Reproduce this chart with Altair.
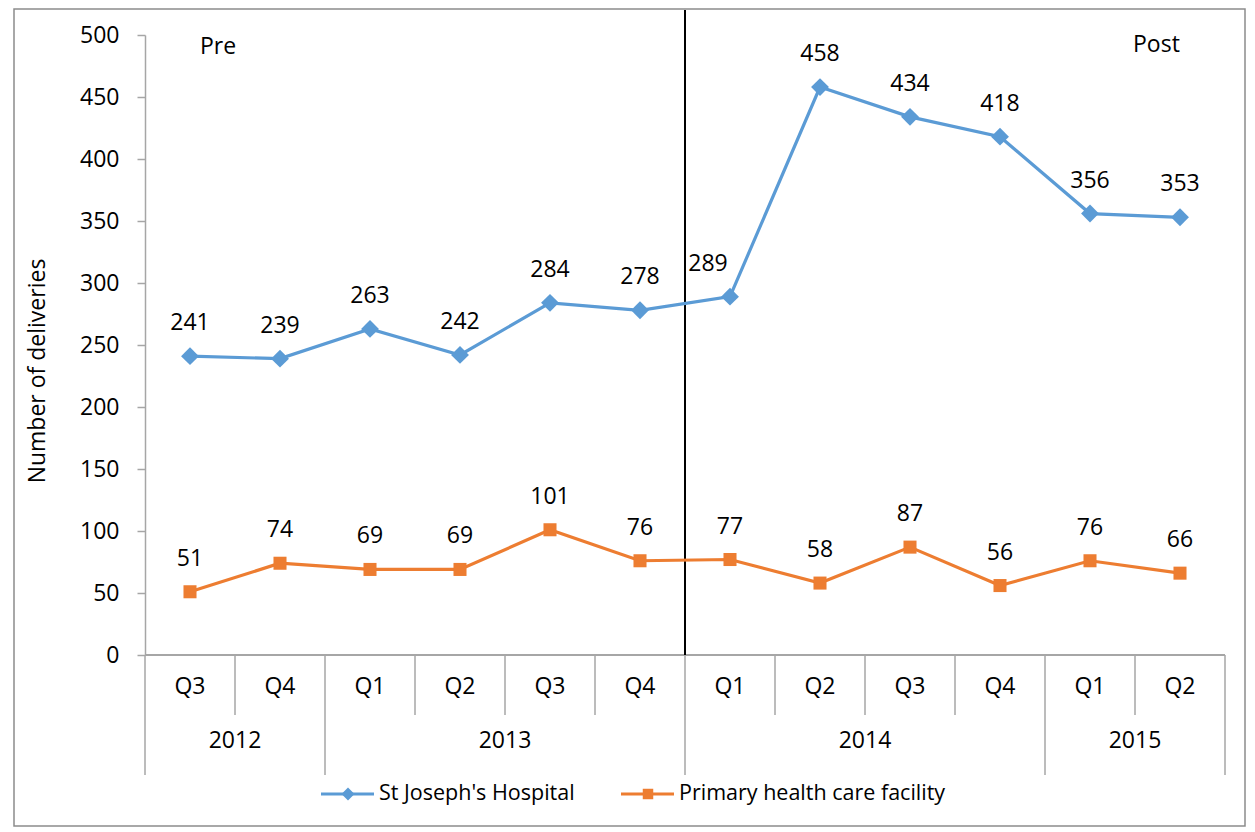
import altair as alt
import pandas as pd

# ---- data ----
quarters = ["Q3", "Q4", "Q1", "Q2", "Q3", "Q4", "Q1", "Q2", "Q3", "Q4", "Q1", "Q2"]
years = ["2012", "2013", "2014", "2015"]
year_counts = [2, 4, 4, 2]
hospital = [241, 239, 263, 242, 284, 278, 289, 458, 434, 418, 356, 353]
phc = [51, 74, 69, 69, 101, 76, 77, 58, 87, 56, 76, 66]
series_names = ["St Joseph's Hospital", "Primary health care facility"]
series_colors = ["#5B9BD5", "#ED7D31"]
series_shapes = ["diamond", "square"]
y_ticks = list(range(0, 501, 50))
intervention_after = "2013"  # line drawn between 2013 Q4 and 2014 Q1

FONT = "Open Sans"
FS = 23
GREY = "#A6A6A6"

rows = []
for i in range(len(quarters)):
    rows.append(dict(pos=i + 0.5, series=series_names[0], value=hospital[i], idx=i))
    rows.append(dict(pos=i + 0.5, series=series_names[1], value=phc[i], idx=i))
df = pd.DataFrame(rows)

# year boundaries
bounds = [0]
for c in year_counts:
    bounds.append(bounds[-1] + c)
year_df = pd.DataFrame({
    "year": years,
    "center": [(bounds[k] + bounds[k + 1]) / 2 for k in range(len(years))],
})
year_sep_df = pd.DataFrame({"pos": bounds})
q_sep_df = pd.DataFrame({"pos": [p for p in range(1, len(quarters)) if p not in bounds]})
q_df = pd.DataFrame({"q": quarters, "pos": [i + 0.5 for i in range(len(quarters))]})
cut = bounds[years.index(intervention_after) + 1]
cut_df = pd.DataFrame({"pos": [cut]})

W, H = 1080, 620
xscale = alt.Scale(domain=[0, len(quarters)], nice=False, zero=False)
yscale = alt.Scale(domain=[0, 500], nice=False)
yaxis = alt.Axis(values=y_ticks, grid=False, domainColor=GREY, tickColor=GREY,
                 tickSize=8, labelPadding=18, labelFont=FONT, labelFontSize=FS,
                 labelColor="#000000", title=None, domainWidth=1.5, tickWidth=1.5)

def X(field="pos"):
    return alt.X(f"{field}:Q", scale=xscale, axis=None)

def Y(field="value"):
    return alt.Y(f"{field}:Q", scale=yscale, axis=yaxis)

color = alt.Color("series:N", scale=alt.Scale(domain=series_names, range=series_colors), legend=None)

lines = alt.Chart(df).mark_line(strokeWidth=3.2).encode(x=X(), y=Y(), color=color, detail="series:N")
pts_h = alt.Chart(df).transform_filter(alt.datum.series == series_names[0]).mark_point(
    filled=True, size=320, opacity=1, shape=series_shapes[0], color=series_colors[0]).encode(x=X(), y=Y())
pts_p = alt.Chart(df).transform_filter(alt.datum.series == series_names[1]).mark_point(
    filled=True, size=170, opacity=1, shape=series_shapes[1], color=series_colors[1]).encode(x=X(), y=Y())

labels_main = alt.Chart(df).transform_filter(
    ~((alt.datum.series == series_names[0]) & (alt.datum.idx == 6))
).mark_text(font=FONT, fontSize=FS, dy=-33, baseline="middle", color="#000000").encode(
    x=X(), y=Y(), text="value:Q")
labels_shift = alt.Chart(df).transform_filter(
    (alt.datum.series == series_names[0]) & (alt.datum.idx == 6)
).mark_text(font=FONT, fontSize=FS, dy=-33, dx=-22, baseline="middle", color="#000000").encode(
    x=X(), y=Y(), text="value:Q")

# x axis construction
x_domain = alt.Chart(year_sep_df).mark_rule(color=GREY, strokeWidth=1.5).encode(
    x=alt.value(0), x2=alt.value(W), y=alt.value(H))
q_seps = alt.Chart(q_sep_df).mark_rule(color=GREY, strokeWidth=1.5).encode(
    x=X(), y=alt.value(H), y2=alt.value(H + 60))
y_seps = alt.Chart(year_sep_df).mark_rule(color=GREY, strokeWidth=1.5).encode(
    x=X(), y=alt.value(H), y2=alt.value(H + 120))
q_labels = alt.Chart(q_df).mark_text(font=FONT, fontSize=FS, baseline="middle", color="#000000").encode(
    x=X(), y=alt.value(H + 32), text="q:N")
year_labels = alt.Chart(year_df).mark_text(font=FONT, fontSize=FS, baseline="middle", color="#000000").encode(
    x=X("center"), y=alt.value(H + 86), text="year:N")

cut_line = alt.Chart(cut_df).mark_rule(color="#000000", strokeWidth=2).encode(
    x=X(), y=alt.value(-25), y2=alt.value(H))

pre = alt.Chart(cut_df).mark_text(text="Pre", font=FONT, fontSize=FS, align="left",
                                  baseline="middle", color="#000000").encode(
    x=alt.value(55), y=alt.value(12))
post = alt.Chart(cut_df).mark_text(text="Post", font=FONT, fontSize=FS, align="left",
                                   baseline="middle", color="#000000").encode(
    x=alt.value(988), y=alt.value(10))

ytitle = alt.Chart(cut_df).mark_text(text="Number of deliveries", font=FONT, fontSize=FS, angle=270,
                                     baseline="middle", align="center", color="#000000").encode(
    x=alt.value(-107), y=alt.value(336))

# legend
legend_layers = []
leg_x = [176, 476]
leg_sizes = [170, 110]
for k, name in enumerate(series_names):
    x0 = leg_x[k]
    legend_layers.append(alt.Chart(cut_df).mark_rule(color=series_colors[k], strokeWidth=3).encode(
        x=alt.value(x0), x2=alt.value(x0 + 53), y=alt.value(759)))
    legend_layers.append(alt.Chart(cut_df).mark_point(shape=series_shapes[k], filled=True, opacity=1,
                                                      size=leg_sizes[k], color=series_colors[k]).encode(
        x=alt.value(x0 + 27), y=alt.value(759)))
    legend_layers.append(alt.Chart(cut_df).mark_text(text=name, font=FONT, fontSize=21.5, align="left",
                                                     baseline="middle", color="#000000").encode(
        x=alt.value(x0 + 58), y=alt.value(759)))

border = alt.Chart(cut_df).mark_rect(fill=None, stroke="#8C8C8C", strokeWidth=1.5).encode(
    x=alt.value(-131), x2=alt.value(1100), y=alt.value(-26), y2=alt.value(791))

chart = alt.layer(
    border, x_domain, q_seps, y_seps, q_labels, year_labels, cut_line,
    lines, pts_h, pts_p, labels_main, labels_shift, pre, post, ytitle, *legend_layers
).properties(
    width=W, height=H,
    autosize=alt.AutoSizeParams(type="none"),
    padding={"left": 137, "top": 27, "right": 22, "bottom": 173},
    background="white",
).configure_view(stroke=None)

chart.save("out.html", embed_options={"renderer": "svg", "actions": False})
